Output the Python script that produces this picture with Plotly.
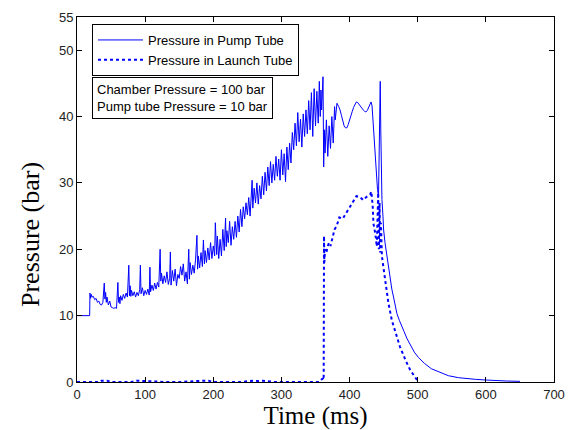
import plotly.graph_objects as go

# ---- Data ----
pump_t = [0, 18.6, 19, 20, 21, 22, 24, 26, 28, 30, 32, 34, 36, 38, 40, 41, 42, 43, 44, 46, 48, 50,
          52, 54, 56, 58, 60, 61, 62, 63, 64, 66, 68, 70, 72, 74, 76, 77, 78, 79, 80, 82, 84, 86,
          88, 90, 92, 93, 94, 96, 98, 100, 102, 104, 106, 107, 108, 110, 112, 114, 116, 118, 120,
          122, 123, 124, 126, 128, 130, 132, 134, 136, 137, 138, 140, 142, 144, 146, 148, 150, 152,
          154, 156, 158, 160, 162, 164, 165, 166, 168, 170, 172, 174, 176, 177, 178, 180, 182, 184,
          185.5, 187, 188, 190, 192, 194, 196, 198, 200, 202, 203, 205, 206, 208, 210, 212, 214, 216,
          218, 219, 220, 222, 224, 226, 228, 230, 232, 234, 236, 238, 240, 242, 244, 246, 248, 250,
          252, 254, 256, 257, 258, 260, 262, 264, 266, 268, 270, 272, 274, 276, 278, 280, 282, 284,
          286, 288, 290, 292, 294, 296, 298, 300, 302, 304, 306, 308, 310, 312, 314, 316, 318, 320,
          322, 324, 326, 328, 330, 332, 334, 336, 338, 340, 342, 344, 346, 348, 350, 352, 354, 355.6,
          357, 358, 359, 361, 362, 363, 364, 366, 368, 370, 372, 374, 376, 378, 379, 381.5, 384, 386,
          388, 390, 392, 394, 396, 398, 400, 402, 404, 406, 408, 410, 412, 414, 416, 418, 420, 422,
          424, 426, 428, 430, 431.5, 433, 434, 435, 436, 437.7, 439, 440, 441, 442.5, 443.5, 444.2,
          445, 445.8, 446.5, 447.5, 449, 450, 452, 455, 459.7, 462, 464.5, 467, 469.5, 473, 476.8,
          480, 484, 490, 495, 501, 510, 520, 533, 545, 560, 572, 585, 600, 615, 630, 650]
pump_p = [10, 10, 13.4, 12.6, 13.2, 12.8, 12.9, 12.4, 12.6, 12.0, 12.2, 11.7, 11.6, 12.0, 14.9, 12.5,
          13.5, 12.0, 12.8, 11.6, 12.2, 11.3, 11.2, 11.1, 11.2, 11.1, 15.0, 12.0, 12.8, 11.8, 13.0,
          12.3, 13.2, 12.6, 13.4, 12.8, 17.6, 13.0, 14.5, 12.9, 13.8, 13.0, 13.6, 12.8, 13.5, 13.0,
          13.9, 17.6, 13.3, 14.2, 13.0, 13.8, 13.2, 14.0, 13.1, 17.3, 13.6, 14.6, 13.8, 14.9, 14.0,
          15.0, 14.3, 20.0, 15.2, 16.4, 14.8, 16.0, 15.0, 16.6, 14.7, 15.6, 19.6, 14.6, 16.8, 15.2,
          17.0, 14.5, 16.2, 15.6, 17.4, 16.1, 17.8, 15.2, 16.6, 14.8, 20.0, 15.5, 18.0, 16.2, 17.6,
          16.4, 18.5, 22.1, 17.0, 19.0, 17.2, 19.5, 17.4, 21.4, 17.8, 19.8, 18.0, 20.2, 18.4, 21.0,
          18.6, 20.5, 19.0, 24.0, 19.2, 22.0, 18.6, 21.5, 19.0, 23.0, 19.8, 24.7, 20.4, 22.8, 21.0,
          24.2, 20.6, 23.4, 21.5, 24.2, 21.8, 25.0, 22.6, 26.0, 23.4, 26.4, 24.6, 27.0, 25.2, 27.8,
          25.0, 29.0, 30.4, 26.2, 29.2, 27.0, 30.0, 26.8, 29.6, 27.6, 31.0, 28.2, 31.6, 28.8, 32.4,
          29.6, 33.2, 30.0, 32.8, 30.4, 34.0, 31.0, 33.6, 30.4, 35.0, 31.2, 34.4, 30.2, 35.4, 32.0,
          36.0, 33.0, 37.6, 35.0, 39.0, 35.6, 40.6, 36.2, 39.6, 35.4, 40.4, 37.0, 41.0, 37.4, 42.4,
          38.0, 43.6, 37.0, 44.2, 38.6, 43.8, 39.0, 45.3, 40.0, 44.0, 41.0, 46.0, 32.4, 38.0, 34.5,
          39.5, 34.0, 38.6, 35.2, 40.0, 36.0, 41.5, 39.5, 42.0, 41.5, 41.0, 40.2, 39.3, 38.6, 38.3,
          38.3, 38.8, 39.6, 40.3, 40.8, 41.4, 41.9, 42.2, 42.1, 41.8, 41.5, 41.3, 41.0, 40.8, 40.7,
          40.9, 41.4, 41.9, 42.2, 41.6, 40.0, 38.5, 36.0, 33.0, 31.0, 30.4, 29.0, 28.0, 34.0, 40.0,
          45.3, 38.0, 31.0, 27.5, 25.0, 22.9, 21.0, 18.9, 15.3, 14.0, 12.8, 11.5, 10.3, 9.3, 8.5,
          7.6, 6.6, 5.4, 4.5, 3.7, 2.8, 2.0, 1.4, 0.95, 0.65, 0.5, 0.4, 0.3, 0.2, 0.15, 0.1]

launch_t = [0, 10, 20, 32, 36, 40, 44, 50, 60, 80, 88, 95, 100, 108, 115, 130, 150, 173, 180, 186,
            193, 200, 215, 240, 259, 265, 273, 290, 300, 320, 340, 355, 359, 361, 362, 362.5, 363,
            364, 366, 368, 370, 372, 375, 378, 381, 385, 390, 395, 400, 405, 410, 415, 420, 425,
            430, 432, 434, 435, 437.7, 440, 441, 442, 443, 444, 445, 446, 447.5, 452, 457, 462,
            467, 474, 482, 489, 496, 501]
launch_p = [0, 0, 0, 0, 0.2, 0.15, 0.2, 0, 0, 0, 0.2, 0.15, 0.2, 0.15, 0, 0, 0, 0.2, 0.15, 0.2,
            0.2, 0, 0, 0, 0.2, 0.15, 0.2, 0, 0, 0, 0, 0, 0.4, 0.5, 0.3, 22.0, 18.0, 20.0, 19.5,
            20.5, 21.0, 20.5, 22.0, 23.0, 23.5, 24.8, 24.6, 25.5, 26.4, 27.2, 28.0, 27.9, 27.4,
            27.9, 28.2, 28.7, 26.4, 23.9, 22.4, 20.4, 26.0, 28.5, 20.0, 27.0, 19.5, 24.0, 18.9,
            15.3, 11.9, 9.3, 7.5, 5.3, 3.3, 1.8, 0.75, 0]

x_ticks = [0, 100, 200, 300, 400, 500, 600, 700]
y_ticks = [0, 10, 20, 30, 40, 50, 55]

legend_names = ["Pressure in Pump Tube", "Pressure in Launch Tube"]
note_lines = ["Chamber Pressure = 100 bar", "Pump tube Pressure = 10 bar"]
x_title = "Time (ms)"
y_title = "Pressure (bar)"

# ---- Figure ----
W, H = 571, 430
L, R, T, B = 77, 17, 17, 48

fig = go.Figure()
fig.add_trace(go.Scatter(x=pump_t, y=pump_p, mode="lines", name=legend_names[0],
                         line=dict(color="#0000FF", width=1)))
fig.add_trace(go.Scatter(x=launch_t, y=launch_p, mode="lines", name=legend_names[1],
                         line=dict(color="#0000FF", width=2, dash="dot")))

sans = "Liberation Sans, Arial, sans-serif"
serif = "Liberation Serif, Times New Roman, serif"

axis_common = dict(showline=True, linecolor="black", linewidth=1, mirror="ticks",
                   ticks="inside", ticklen=5, tickcolor="black", showgrid=False,
                   zeroline=False, automargin=False,
                   tickfont=dict(family=sans, size=13, color="#222222"))

fig.update_xaxes(range=[0, 700], tickvals=x_ticks,
                 title=dict(text=x_title, standoff=2,
                            font=dict(family=serif, size=25, color="black")),
                 **axis_common)
fig.update_yaxes(range=[0, 55], tickvals=y_ticks, **axis_common)

pw, ph = W - L - R, H - T - B
fig.add_annotation(text=y_title, xref="paper", yref="paper", x=(30 - L) / pw, y=(H - B - 235) / ph,
                   xanchor="center", yanchor="middle", showarrow=False, textangle=-90,
                   font=dict(family=serif, size=26, color="black"))
fig.add_annotation(text="<br>".join(note_lines), xref="paper", yref="paper",
                   x=(92 - L) / pw, y=(H - B - 77) / ph, xanchor="left", yanchor="top",
                   align="left", showarrow=False, bordercolor="black", borderwidth=1,
                   borderpad=4, bgcolor="white",
                   font=dict(family=sans, size=13, color="black"))

fig.update_layout(
    width=W, height=H,
    margin=dict(l=L, r=R, t=T, b=B),
    paper_bgcolor="white", plot_bgcolor="white",
    showlegend=True,
    legend=dict(x=(92 - L) / pw, y=(H - B - 24) / ph, xanchor="left", yanchor="top",
                bordercolor="black", borderwidth=1, bgcolor="white", itemwidth=45,
                tracegroupgap=0, font=dict(family=sans, size=13, color="black")),
)

fig.write_html("out.html")
